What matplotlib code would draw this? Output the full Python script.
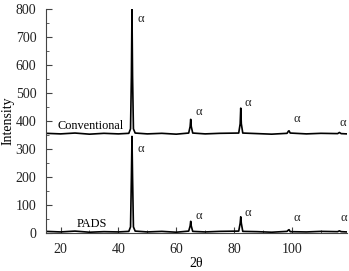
import numpy as np
import matplotlib.pyplot as plt
from matplotlib.ticker import MultipleLocator

plt.rcParams['font.family'] = ['Liberation Serif', 'DejaVu Serif']

# 2θ positions and intensities (peaks traced by hand)
conv_x = [15, 20, 25, 30, 35, 40, 43.6, 44.2, 44.5, 44.7, 44.9, 45.2, 45.8, 50, 55, 60, 64.3,
          64.8, 65.0, 65.2, 65.7, 70, 75, 81.6, 82.1, 82.3, 82.5, 83.0, 88, 93, 98.3, 98.8,
          99.0, 99.4, 105, 110, 115.8, 116.4, 117.0, 119]
conv_y = [356, 354, 357, 353, 356, 354, 356, 372, 560, 800, 560, 372, 357, 354, 356, 353, 357,
          380, 406, 380, 357, 354, 356, 357, 390, 446, 390, 357, 355, 353, 356, 364,
          365, 357, 354, 356, 355, 359, 355, 354]

pads_x = [15, 20, 25, 30, 35, 40, 43.6, 44.2, 44.5, 44.7, 44.9, 45.2, 45.8, 50, 55, 60, 64.3,
          64.8, 65.0, 65.2, 65.7, 70, 75, 81.6, 82.1, 82.3, 82.5, 83.0, 88, 93, 98.3, 98.8,
          99.0, 99.4, 105, 110, 115.8, 116.4, 117.0, 119]
pads_y = [6, 4, 7, 3, 5, 4, 6, 22, 200, 345, 200, 22, 7, 4, 6, 3, 7,
          25, 42, 25, 6, 4, 6, 7, 35, 58, 35, 6, 5, 3, 6, 11,
          12, 5, 4, 6, 5, 8, 5, 4]

alpha_conv = [(46.5, 742), (66.5, 410), (83.5, 442), (100.5, 385), (116.3, 372)]
alpha_pads = [(46.5, 278), (66.5, 40), (83.5, 50), (100.5, 32), (116.8, 32)]

fig = plt.figure(figsize=(3.49, 2.71), dpi=100)
ax = fig.add_axes([0.132, 0.14, 0.862, 0.827])

ax.plot(conv_x, conv_y, color='black', lw=1.2)
ax.plot(pads_x, pads_y, color='black', lw=1.2)

for x, y in alpha_conv + alpha_pads:
    ax.text(x, y, 'α', fontsize=9, va='bottom', ha='left', color='#222222')

ax.text(18.8, 372, 'Conventional', fontsize=8.8)
ax.text(25.7, 22, 'PADS', fontsize=8.8)

ax.set_xlim(15, 119)
ax.set_ylim(0, 800)
ax.set_xticks([20, 40, 60, 80, 100])
ax.xaxis.set_minor_locator(MultipleLocator(10))
ax.yaxis.set_major_locator(MultipleLocator(100))
ax.yaxis.set_minor_locator(MultipleLocator(50))
ax.tick_params(which='both', direction='in', labelsize=10, colors='#444444', labelcolor='#222222')
ax.tick_params(which='major', length=4, pad=7)
ax.tick_params(which='minor', length=2)
ax.spines['top'].set_visible(False)
ax.spines['right'].set_visible(False)
ax.spines['left'].set_color('#444444')
ax.spines['bottom'].set_color('#444444')
ax.set_xlabel('2θ', fontsize=10, labelpad=1)
ax.set_ylabel('Intensity', fontsize=10, labelpad=1)

fig.savefig('out.png', dpi=100)
